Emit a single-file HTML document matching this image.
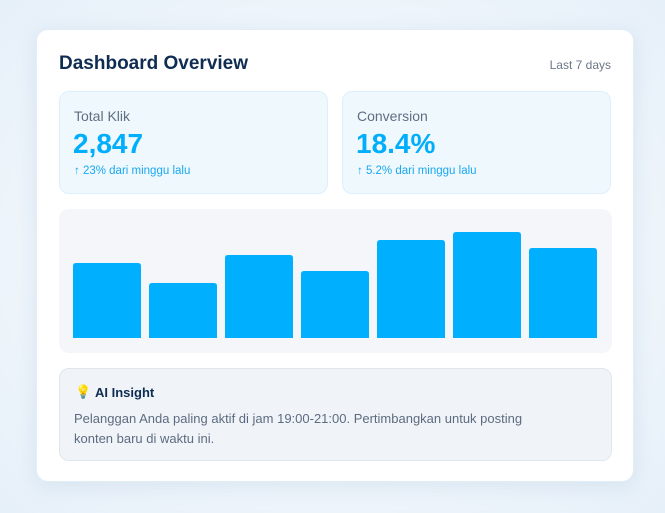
<!DOCTYPE html>
<html><head><meta charset="utf-8"><style>
*{box-sizing:border-box;margin:0;padding:0}
body{width:665px;height:513px;background:radial-gradient(ellipse at center,#f4f8fc 40%,#e6f0f9 100%);font-family:"Liberation Sans",sans-serif;position:relative;overflow:hidden}
.card{position:absolute;left:36px;top:29px;width:598px;height:453px;background:#fff;border-radius:12px;box-shadow:0 4px 20px rgba(120,160,200,.18);border:1px solid #e3edf6}
.abs{position:absolute}
h1{position:absolute;left:22px;top:23px;font-size:19px;font-weight:bold;color:#0f2d52}
.range{position:absolute;right:22px;top:28px;font-size:12px;color:#6b7787}
.stat{position:absolute;top:61px;width:269px;height:103px;background:#eff8fd;border:1px solid #dcefff;border-radius:10px}
.stat .l{position:absolute;left:14px;top:16px;font-size:14px;color:#5f6e82}
.stat .v{position:absolute;left:13px;top:36px;font-size:28px;font-weight:bold;color:#00aefc}
.stat .c{position:absolute;left:14px;top:73px;font-size:11.5px;color:#1aa8f0}
.chart{position:absolute;left:22px;top:179px;width:553px;height:144px;background:#f4f6f9;border-radius:10px}
.ins{position:absolute;left:22px;top:338px;width:553px;height:93px;background:#f0f4f8;border:1px solid #dfe6ee;border-radius:10px}
.ins .t{position:absolute;left:35px;top:16px;font-size:13px;font-weight:bold;color:#0f2d52}
.ins .b{position:absolute;left:14px;top:40px;width:470px;font-size:13px;line-height:20px;color:#5d6b80}
</style></head><body>
<div class="card">
<h1>Dashboard Overview</h1>
<div class="range">Last 7 days</div>
<div class="stat" style="left:22px">
<div class="l">Total Klik</div>
<div class="v">2,847</div>
<div class="c">↑ 23% dari minggu lalu</div></div>
<div class="stat" style="left:305px">
<div class="l">Conversion</div>
<div class="v">18.4%</div>
<div class="c">↑ 5.2% dari minggu lalu</div></div>
<div class="chart">
<svg id="svg" width="553" height="144"></svg></div>
<div class="ins">
<div class="abs" style="left:15px;top:15px;font-size:13px">💡</div>
<div class="t">AI Insight</div>
<div class="b">Pelanggan Anda paling aktif di jam 19:00-21:00. Pertimbangkan untuk posting konten baru di waktu ini.</div></div>
</div>
<script>
const categories=["Sen","Sel","Rab","Kam","Jum","Sab","Min"];
const values=[75,55,83,67,98,106,90];
const svg=document.getElementById('svg');
const baseY=129,plotH=106,maxV=106,left=14,step=76,bw=68;
const y=v=>baseY-v/maxV*plotH;
const x=i=>left+i*step;
values.forEach((v,i)=>{
 const r=document.createElementNS('http://www.w3.org/2000/svg','path');
 const x0=x(i),y0=y(v),rr=3;
 r.setAttribute('d',`M${x0},${baseY}V${y0+rr}Q${x0},${y0} ${x0+rr},${y0}H${x0+bw-rr}Q${x0+bw},${y0} ${x0+bw},${y0+rr}V${baseY}Z`);
 r.setAttribute('fill','#00b0ff');
 
 
 svg.appendChild(r);
});
</script>
</body></html>
